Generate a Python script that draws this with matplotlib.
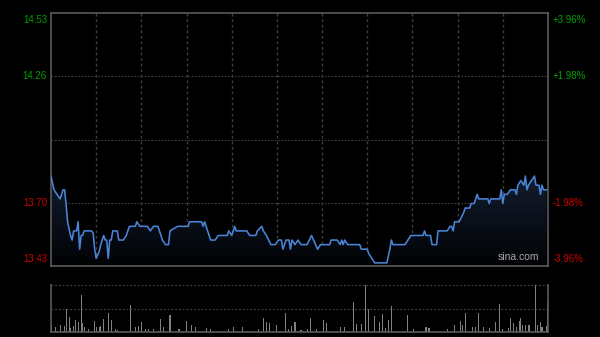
import matplotlib
matplotlib.use("Agg")
import matplotlib.pyplot as plt
import numpy as np
from matplotlib.transforms import blended_transform_factory, offset_copy
from matplotlib.colors import LinearSegmentedColormap

# ---------------- data ----------------
prev_close = 13.98
pct_levels = [3.96, 1.98, -1.98, -3.96]
price_labels = ["14.53", "14.26", "13.70", "13.43"]
pct_labels = ["+3.96%", "+1.98%", "-1.98%", "-3.96%"]

# minutes after open (HK session, 330 trading minutes) and price
minutes = [0, 2, 4, 6, 8, 9, 10, 11, 13, 14, 15, 17, 18, 19, 20, 21, 22, 27, 28, 29,
           30, 32, 33, 35, 36, 37, 38, 39, 40, 41, 44, 45, 48, 50, 52, 56, 57, 59, 64, 66,
           68, 71, 73, 74, 76, 78, 79, 84, 91, 92, 100, 101, 102, 104, 106, 109, 111, 117, 118, 120,
           122, 123, 130, 132, 136, 137, 140, 141, 143, 146, 149, 151, 153, 154, 156, 158, 159, 160, 162, 164,
           166, 170, 173, 175, 177, 179, 185, 186, 190, 192, 193, 194, 195, 197, 205, 206, 210, 211, 213, 215,
           223, 225, 226, 227, 235, 237, 239, 247, 248, 249, 252, 253, 256, 257, 263, 265, 266, 267, 268, 271,
           274, 275, 278, 279, 281, 283, 284, 290, 291, 292, 298, 299, 300, 301, 303, 305, 308, 309, 310, 312,
           314, 315, 316, 317, 319, 321, 322, 324, 325, 326, 327, 329]
prices = [13.82, 13.76, 13.74, 13.72, 13.76, 13.76, 13.70, 13.62, 13.56, 13.54, 13.58, 13.58, 13.62, 13.50, 13.56, 13.56, 13.58, 13.58, 13.57, 13.50,
          13.46, 13.49, 13.52, 13.56, 13.54, 13.54, 13.46, 13.54, 13.54, 13.58, 13.58, 13.54, 13.54, 13.56, 13.60, 13.60, 13.62, 13.60, 13.60, 13.58,
          13.60, 13.60, 13.56, 13.54, 13.52, 13.52, 13.58, 13.60, 13.60, 13.62, 13.62, 13.60, 13.62, 13.58, 13.54, 13.54, 13.56, 13.56, 13.58, 13.56,
          13.60, 13.58, 13.58, 13.56, 13.56, 13.58, 13.60, 13.58, 13.56, 13.52, 13.52, 13.54, 13.54, 13.50, 13.54, 13.54, 13.50, 13.54, 13.52, 13.54,
          13.52, 13.52, 13.56, 13.53, 13.50, 13.52, 13.52, 13.54, 13.54, 13.52, 13.54, 13.52, 13.54, 13.52, 13.52, 13.50, 13.50, 13.48, 13.46, 13.44,
          13.44, 13.50, 13.54, 13.52, 13.52, 13.54, 13.56, 13.56, 13.58, 13.56, 13.56, 13.52, 13.52, 13.58, 13.58, 13.60, 13.60, 13.58, 13.62, 13.62,
          13.66, 13.68, 13.68, 13.70, 13.70, 13.74, 13.72, 13.72, 13.70, 13.72, 13.72, 13.76, 13.70, 13.74, 13.74, 13.76, 13.76, 13.74, 13.78, 13.80,
          13.78, 13.82, 13.76, 13.78, 13.80, 13.82, 13.78, 13.78, 13.74, 13.78, 13.76, 13.76]

# volume bars (minute, relative volume; 100 = panel top)
vol_minutes = [0, 3, 6, 9, 10, 12, 13, 15, 16, 18, 20, 21, 22, 25, 29, 30, 32, 33, 35, 38,
               40, 43, 44, 53, 56, 58, 60, 63, 65, 68, 73, 75, 79, 85, 90, 93, 96, 103, 106, 118,
               121, 127, 138, 141, 143, 145, 150, 156, 158, 160, 162, 166, 170, 172, 176, 181, 183, 192, 195, 201,
               203, 206, 209, 211, 215, 218, 220, 222, 224, 226, 237, 241, 249, 251, 263, 268, 272, 273, 275, 280,
               282, 284, 287, 291, 295, 298, 300, 304, 305, 307, 309, 311, 312, 313, 315, 317, 318, 322, 323, 325,
               326, 329, 330]
volumes = [15, 11, 15, 13, 49, 32, 8, 13, 26, 21, 79, 19, 10, 6, 23, 10, 10, 13, 28, 40,
           26, 6, 4, 57, 11, 13, 21, 6, 6, 6, 28, 11, 36, 6, 23, 15, 10, 9, 6, 6,
           10, 11, 6, 30, 21, 19, 15, 40, 6, 13, 21, 4, 6, 30, 6, 26, 19, 10, 11, 64,
           17, 17, 100, 49, 34, 21, 38, 8, 26, 55, 36, 6, 11, 8, 6, 15, 23, 15, 40, 11,
           10, 40, 11, 9, 21, 60, 6, 8, 30, 19, 11, 23, 30, 15, 15, 15, 15, 100, 15, 21,
           11, 13, 64]

# ---------------- styling ----------------
BG = "#000000"
GRID = "#3e3e3e"
SPINE = "#5a5a5a"
GREEN = "#00a000"
RED = "#cc0000"
LINE = "#4a84d6"
FONT = ["Liberation Sans", "DejaVu Sans"]

W, H = 600, 337
fig = plt.figure(figsize=(W / 100, H / 100), dpi=100, facecolor=BG)

def frac(left, top, right, bottom):
    return [left / W, 1 - bottom / H, (right - left) / W, (bottom - top) / H]

ax = fig.add_axes(frac(51, 13, 548, 266))
axv = fig.add_axes(frac(51, 285, 548, 332))

ymax = prev_close * (1 + pct_levels[0] / 100)
ymin = prev_close * (1 + pct_levels[-1] / 100)

for a in (ax, axv):
    a.set_facecolor(BG)
    a.set_xticks([])
    a.set_yticks([])
    a.set_xlim(0, 330)

ax.set_ylim(ymin, ymax)
for s in ax.spines.values():
    s.set_color(SPINE)
    s.set_linewidth(1.2)

# grid
for m in range(30, 330, 30):
    ax.axvline(m, color=GRID, lw=1.0, ls=(0, (2, 2)), zorder=1)
for lvl in (pct_levels[1], 0.0, pct_levels[2]):
    ax.axhline(prev_close * (1 + lvl / 100), color=GRID, lw=0.8, ls=(0, (1.5, 1.5)), zorder=1)

# price area with vertical gradient
poly = ax.fill_between(minutes, prices, ymin, facecolor="none", lw=0, zorder=2)
cmap = LinearSegmentedColormap.from_list("fade", ["#010204", "#131d2f"])
grad = np.linspace(0, 1, 256).reshape(-1, 1)
im = ax.imshow(grad, extent=[0, 330, ymin, max(prices)], origin="lower", aspect="auto",
               cmap=cmap, zorder=2, interpolation="bilinear")
im.set_clip_path(poly.get_paths()[0], transform=ax.transData)
ax.set_xlim(0, 330)
ax.set_ylim(ymin, ymax)
ax.plot(minutes, prices, color=LINE, lw=1.15, zorder=3, solid_joinstyle="round")

# labels
trans = blended_transform_factory(ax.transAxes, ax.transData)
label_vals = [prev_close * (1 + p / 100) for p in pct_levels]
for i, (v, pl, cl) in enumerate(zip(label_vals, price_labels, pct_labels)):
    col = GREEN if pct_levels[i] > 0 else RED
    if i == 0:
        va, dy = "top", -2
    elif i == len(label_vals) - 1:
        va, dy = "bottom", 2
    else:
        va, dy = "center", 0
    tl = offset_copy(trans, fig=fig, x=-4, y=dy, units="dots")
    tr = offset_copy(trans, fig=fig, x=5, y=dy, units="dots")
    ax.text(0, v, pl, transform=tl, ha="right", va=va, color=col, fontsize=7, family=FONT)
    ax.text(1, v, cl, transform=tr, ha="left", va=va, color=col, fontsize=7, family=FONT)

ax.text(0.94, 0.015, "sina.com", transform=ax.transAxes, ha="center", va="bottom",
        color="#a8a8a8", fontsize=7.5, family=FONT, zorder=4)

# volume panel
axv.set_ylim(0, 100)
axv.bar(vol_minutes, volumes, width=0.7, color="#808080", lw=0, zorder=2)
axv.spines["top"].set_visible(False)
for k in ("left", "right", "bottom"):
    axv.spines[k].set_color(SPINE)
    axv.spines[k].set_linewidth(1.2)
axv.axhline(100, color=GRID, lw=0.9, ls=(0, (1.5, 1.5)), zorder=1, clip_on=False)
axv.axhline(50, color=GRID, lw=0.9, ls=(0, (1.5, 1.5)), zorder=1)

fig.savefig("out.png", dpi=100, facecolor=BG)
